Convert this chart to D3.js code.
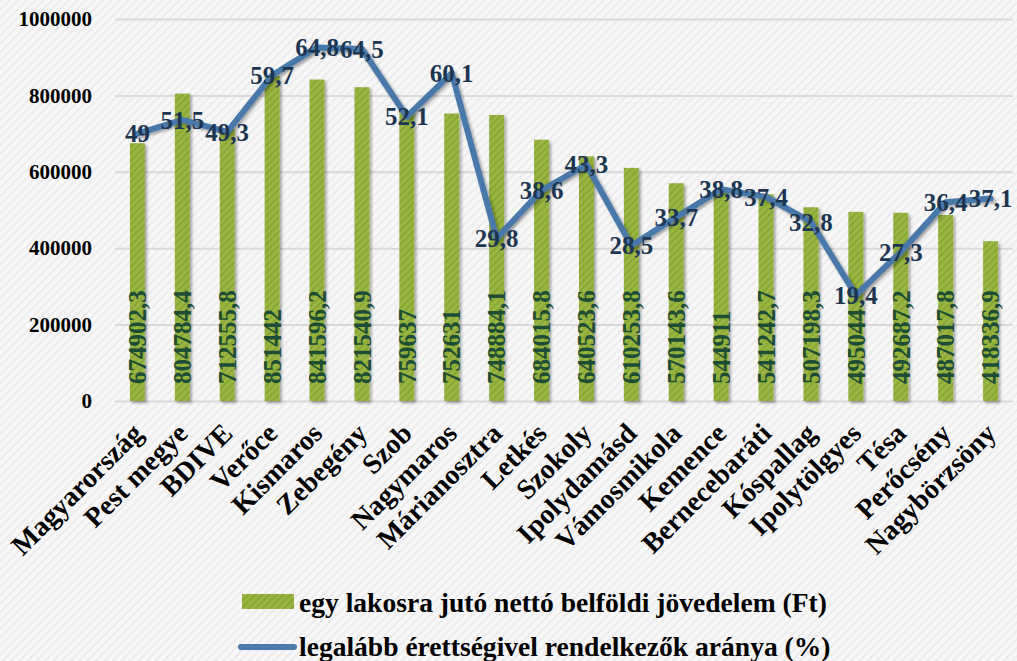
<!DOCTYPE html>
<html lang="hu">
<head>
<meta charset="UTF-8">
<title>Jövedelem és érettségi arány</title>
<script src="https://d3js.org/d3.v7.min.js"></script>
<style>
  body { margin: 0; background: #f6f6f6; }
  svg text { font-family: "Liberation Serif", "Times New Roman", "DejaVu Serif", serif; }
  .tick-label { font-size: 21px; font-weight: bold; fill: #000; }
  .cat-label { font-size: 28px; font-weight: bold; fill: #000; }
  .bar-label { font-size: 25px; font-weight: bold; fill: #1d4d34; }
  .line-label { font-size: 25px; font-weight: bold; fill: #1c3652; }
  .legend-text { font-size: 24px; font-weight: bold; fill: #000; }
</style>
</head>
<body>
<div id="chart"></div>
<script>
// telepulesek
const categories = ["Magyarország", "Pest megye", "BDIVE", "Verőce", "Kismaros", "Zebegény", "Szob",
  "Nagymaros", "Márianosztra", "Letkés", "Szokoly", "Ipolydamásd", "Vámosmikola", "Kemence",
  "Bernecebaráti", "Kóspallag", "Ipolytölgyes", "Tésa", "Perőcsény", "Nagybörzsöny"];

// egy lakosra jutó nettó belföldi jövedelem (Ft)
const income = [674902.3, 804784.4, 712555.8, 851442, 841596.2, 821540.9, 759637, 752631, 748884.1,
  684015.8, 640523.6, 610253.8, 570143.6, 544911, 541242.7, 507198.3, 495044, 492687.2, 487017.8, 418336.9];

// legalább érettségivel rendelkezők aránya (%)
const ratio = [49, 51.5, 49.3, 59.7, 64.8, 64.5, 52.1, 60.1, 29.8, 38.6, 43.3, 28.5, 33.7, 38.8,
  37.4, 32.8, 19.4, 27.3, 36.4, 37.1];

const yTicks = [0, 200000, 400000, 600000, 800000, 1000000];
const seriesNames = ["egy lakosra jutó nettó belföldi jövedelem (Ft)", "legalább érettségivel rendelkezők aránya (%)"];

const width = 1017, height = 661;
const plot = { left: 115, right: 1013, top: 19, bottom: 401 };

const fmt = v => String(v).replace(".", ",");

const svg = d3.select("#chart").append("svg")
  .attr("width", width).attr("height", height);

const defs = svg.append("defs");

// background texture
const bgPat = defs.append("pattern").attr("id", "bgpat")
  .attr("width", 6).attr("height", 6).attr("patternUnits", "userSpaceOnUse")
  .attr("patternTransform", "rotate(45)");
bgPat.append("rect").attr("width", 6).attr("height", 6).attr("fill", "#f7f7f7");
bgPat.append("rect").attr("width", 2).attr("height", 6).attr("fill", "#ececec");

// bar texture
const barPat = defs.append("pattern").attr("id", "barpat")
  .attr("width", 5).attr("height", 5).attr("patternUnits", "userSpaceOnUse")
  .attr("patternTransform", "rotate(45)");
barPat.append("rect").attr("width", 5).attr("height", 5).attr("fill", "#9ab642");
barPat.append("rect").attr("width", 2).attr("height", 5).attr("fill", "#8aa636");

const shadow = defs.append("filter").attr("id", "shadow")
  .attr("x", "-30%").attr("y", "-10%").attr("width", "160%").attr("height", "130%");
shadow.append("feDropShadow").attr("dx", 2).attr("dy", 2).attr("stdDeviation", 1.5)
  .attr("flood-color", "#000").attr("flood-opacity", 0.35);

svg.append("rect").attr("width", width).attr("height", height).attr("fill", "url(#bgpat)");

const x = d3.scaleBand().domain(categories).range([plot.left, plot.right])
  .paddingInner(0.667).paddingOuter(0.333);
const y = d3.scaleLinear().domain([0, 1000000]).range([plot.bottom, plot.top]);
const y2 = d3.scaleLinear().domain([0, 70]).range([plot.bottom, plot.top]);
const cx = d => x(d) + x.bandwidth() / 2;

// gridlines + y axis
const yAxis = svg.append("g")
  .attr("transform", `translate(${plot.left},0)`)
  .call(d3.axisLeft(y).tickValues(yTicks).tickSize(-(plot.right - plot.left)).tickPadding(23)
    .tickFormat(d => d));
yAxis.attr("font-family", null).attr("font-size", null);
yAxis.select(".domain").remove();
yAxis.selectAll(".tick line").attr("stroke", "#d9d9d9").attr("stroke-width", 2);
yAxis.selectAll(".tick text").attr("class", "tick-label");

// bars
svg.append("g").selectAll("rect")
  .data(income)
  .join("rect")
  .attr("x", (d, i) => x(categories[i]))
  .attr("y", d => y(d))
  .attr("width", x.bandwidth())
  .attr("height", d => y(0) - y(d))
  .attr("fill", "url(#barpat)")
  .attr("filter", "url(#shadow)");

// bar labels
svg.append("g").selectAll("text")
  .data(income)
  .join("text")
  .attr("class", "bar-label")
  .attr("transform", (d, i) => `translate(${cx(categories[i])},${y(0) - 17}) rotate(-90)`)
  .attr("dy", "0.35em")
  .text(d => fmt(d));

// line
const line = d3.line()
  .x((d, i) => cx(categories[i]))
  .y(d => y2(d));

svg.append("path")
  .datum(ratio)
  .attr("d", line)
  .attr("fill", "none")
  .attr("stroke", "#4a79aa")
  .attr("stroke-width", 6)
  .attr("stroke-linejoin", "round")
  .attr("stroke-linecap", "round")
  .attr("filter", "url(#shadow)");

svg.append("g").selectAll("text")
  .data(ratio)
  .join("text")
  .attr("class", "line-label")
  .attr("x", (d, i) => cx(categories[i]))
  .attr("y", d => y2(d))
  .attr("dy", "0.35em")
  .attr("text-anchor", "middle")
  .text(d => fmt(d));

// category labels
svg.append("g").selectAll("text")
  .data(categories)
  .join("text")
  .attr("class", "cat-label")
  .attr("text-anchor", "end")
  .attr("transform", d => `translate(${cx(d) + 7},${plot.bottom + 34}) rotate(-45)`)
  .text(d => d);

// legend
const legend = svg.append("g");
legend.append("rect")
  .attr("x", 242).attr("y", 594).attr("width", 52).attr("height", 15)
  .attr("fill", "url(#barpat)");
legend.append("line")
  .attr("x1", 241).attr("x2", 294).attr("y1", 647).attr("y2", 647)
  .attr("stroke", "#4a79aa").attr("stroke-width", 6).attr("stroke-linecap", "round");
legend.selectAll("text.legend-text")
  .data(seriesNames)
  .join("text")
  .attr("class", "legend-text")
  .attr("x", 299)
  .attr("y", (d, i) => [602, 646][i])
  .attr("dy", "0.35em")
  .text(d => d);

// fit legend text to its width in the picture
const first = legend.select("text.legend-text").node();
const fs = 24 * 528 / first.getComputedTextLength();
legend.selectAll("text.legend-text").style("font-size", fs + "px");
</script>
</body>
</html>
